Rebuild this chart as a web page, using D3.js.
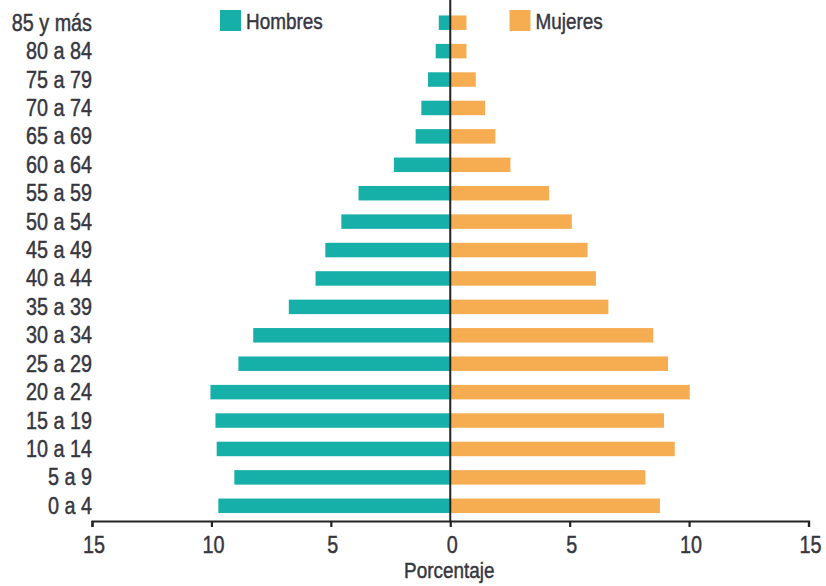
<!DOCTYPE html>
<html><head><meta charset="utf-8">
<script src="https://cdn.jsdelivr.net/npm/d3@7"></script>
<style>body{margin:0;background:#fff}svg{display:block}</style>
</head><body>
<svg id="c" width="826" height="586"></svg>
<script>
const categories = ["0 a 4","5 a 9","10 a 14","15 a 19","20 a 24","25 a 29","30 a 34","35 a 39","40 a 44","45 a 49","50 a 54","55 a 59","60 a 64","65 a 69","70 a 74","75 a 79","80 a 84","85 y más"];
const hombres = [9.71,9.04,9.78,9.83,10.04,8.87,8.25,6.76,5.64,5.23,4.56,3.84,2.36,1.45,1.21,0.93,0.61,0.48];
const mujeres = [8.78,8.17,9.40,8.95,10.03,9.12,8.50,6.62,6.10,5.75,5.09,4.14,2.52,1.89,1.46,1.07,0.68,0.68];
const xTicks = [-15,-10,-5,0,5,10,15];
const seriesNames = ["Hombres","Mujeres"];
const colors = ["#16b0a9","#f6ad52"];

const svg = d3.select("#c");
const font = "'Liberation Sans',Arial,sans-serif";
const textColor = "#363640";
const sx = 0.86;

function styleText(sel, size) {
  sel.attr("font-family",font).attr("font-size",size).attr("fill",textColor)
     .attr("stroke",textColor).attr("stroke-width",0.45);
}

const x = d3.scaleLinear().domain([-15,15]).range([92,808.5]);
const y = d3.scaleBand().domain(categories).range([520,8.5]).paddingInner(0.49).paddingOuter(0.245);

// bars
svg.append("g").selectAll("rect").data(categories).join("rect")
  .attr("x", (d,i)=>x(-hombres[i])).attr("y", d=>y(d))
  .attr("width", (d,i)=>x(0)-x(-hombres[i])).attr("height", y.bandwidth())
  .attr("fill", colors[0]);
svg.append("g").selectAll("rect").data(categories).join("rect")
  .attr("x", x(0)).attr("y", d=>y(d))
  .attr("width", (d,i)=>x(mujeres[i])-x(0)).attr("height", y.bandwidth())
  .attr("fill", colors[1]);

// center line
svg.append("line").attr("x1",x(0)).attr("x2",x(0)).attr("y1",0).attr("y2",521)
  .attr("stroke","#222").attr("stroke-width",2);

// x axis
const xAxis = d3.axisBottom(x).tickValues(xTicks).tickFormat(d=>Math.abs(d)).tickSize(6).tickSizeOuter(6);
const gx = svg.append("g").attr("transform","translate(0,521)").call(xAxis);
gx.select(".domain").attr("stroke","#222").attr("stroke-width",2.2);
gx.selectAll(".tick line").attr("stroke","#222").attr("stroke-width",2.2);
gx.selectAll("text").call(styleText, 23)
  .attr("dy",null).attr("y",32).attr("transform",`translate(1.5,0) scale(${sx},1)`);

// y axis labels
const yAxis = d3.axisLeft(y).tickSize(0).tickPadding(0);
const gy = svg.append("g").attr("transform","translate(92,0)").call(yAxis);
gy.select(".domain").remove();
gy.selectAll("text").call(styleText, 23)
  .attr("dy",null).attr("y",8).attr("transform",`scale(${sx},1)`);

// axis title
svg.append("text").attr("transform",`translate(${x(0)-1},578) scale(${sx},1)`).attr("text-anchor","middle")
  .call(styleText, 22).text("Porcentaje");

// legend
const legendX = [220,509.5];
seriesNames.forEach((n,i)=>{
  svg.append("rect").attr("x",legendX[i]).attr("y",10).attr("width",21).attr("height",21).attr("fill",colors[i]);
  svg.append("text").attr("transform",`translate(${legendX[i]+26},29) scale(${sx},1)`)
    .call(styleText, 22).text(n);
});
</script>
</body></html>
